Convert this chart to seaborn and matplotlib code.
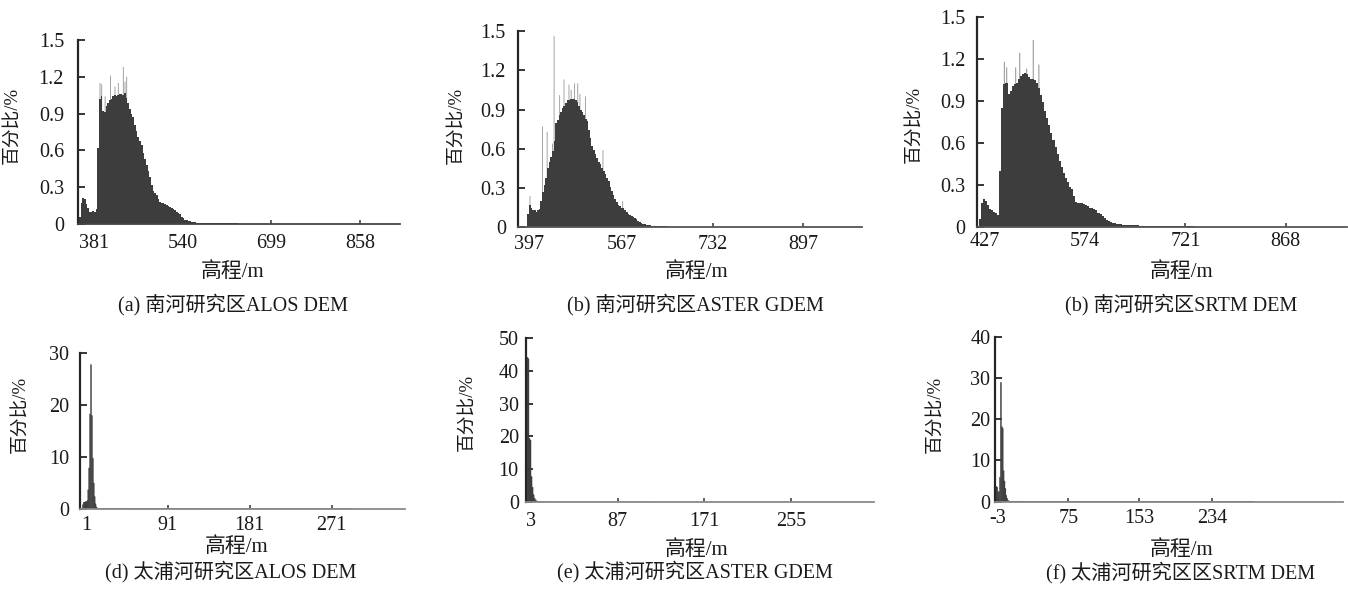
import numpy as np
import pandas as pd
import matplotlib
matplotlib.use("Agg")
import matplotlib.pyplot as plt
import seaborn as sns

# ---------------- data ----------------
# (a) 南河 ALOS DEM : 3 m bins from a_start, then 10 m tail bins
a_start = 354
a_pct = [0.06, 0.17, 0.21, 0.20, 0.16, 0.13, 0.10, 0.10, 0.11, 0.10,
         0.12, 0.62, 1.02, 1.04, 0.92, 0.91, 0.96, 0.99, 1.01, 1.02,
         1.04, 1.05, 1.04, 1.05, 1.06, 1.06, 1.05, 1.07, 1.03, 0.99,
         0.94, 0.90, 0.87, 0.81, 0.76, 0.71, 0.68, 0.64, 0.58, 0.53,
         0.48, 0.43, 0.38, 0.32, 0.27, 0.25, 0.24, 0.20, 0.18, 0.17,
         0.17, 0.16, 0.155, 0.15, 0.14, 0.13, 0.12, 0.115, 0.10, 0.09,
         0.08, 0.06, 0.046, 0.035, 0.030, 0.027, 0.022, 0.018, 0.015, 0.014,
         0.012, 0.011, 0.010, 0.009, 0.008]
a_tail = [0.007, 0.006, 0.006, 0.005, 0.005, 0.005, 0.004, 0.004, 0.004,
          0.004, 0.003, 0.003, 0.003, 0.003, 0.003, 0.002, 0.002, 0.002]
a_spike_x = [391.8, 394.8, 401.0, 410.6, 418.6, 424.6, 433.6, 436.6, 439.6]
a_spike_y = [1.15, 1.14, 1.04, 1.21, 1.12, 1.15, 1.28, 1.16, 1.20]
a_xticks = [381, 540, 699, 858]

# (b) 南河 ASTER GDEM
b_start = 394
b_pct = [0.10, 0.17, 0.15, 0.13, 0.13, 0.12, 0.13, 0.14, 0.20, 0.27,
         0.32, 0.38, 0.45, 0.50, 0.54, 0.58, 0.66, 0.80, 0.82, 0.86,
         0.88, 0.91, 0.93, 0.95, 0.97, 0.97, 0.98, 0.98, 0.98, 0.97,
         0.96, 0.93, 0.90, 0.88, 0.86, 0.83, 0.81, 0.74, 0.68, 0.62,
         0.59, 0.56, 0.53, 0.50, 0.48, 0.45, 0.43, 0.41, 0.38, 0.35,
         0.31, 0.28, 0.25, 0.22, 0.19, 0.17, 0.16, 0.15, 0.145, 0.13,
         0.12, 0.105, 0.094, 0.085, 0.075, 0.068, 0.060, 0.050, 0.043, 0.035,
         0.029, 0.024, 0.020, 0.017, 0.014, 0.012, 0.011, 0.010, 0.009]
b_tail = [0.008, 0.007, 0.006, 0.006, 0.005, 0.005, 0.005, 0.004, 0.004,
          0.004, 0.004, 0.003, 0.003, 0.003, 0.003, 0.003, 0.003, 0.002,
          0.002, 0.002, 0.002, 0.002, 0.002, 0.002, 0.002, 0.001, 0.001,
          0.001, 0.001, 0.001, 0.001, 0.001, 0.001, 0.001, 0.001, 0.001, 0.001]
b_spike_x = [399.0, 421.8, 430.2, 440.0, 442.9, 453.0, 461.0, 470.0, 474.0,
             480.0, 486.0, 490.0, 500.0, 532.0, 568.0]
b_spike_y = [0.24, 0.77, 0.73, 0.64, 1.46, 1.01, 1.13, 1.09, 1.05,
             1.10, 1.10, 1.02, 1.00, 0.59, 0.20]
b_xticks = [397, 567, 732, 897]

# (c) 南河 SRTM DEM
c_start = 418
c_pct = [0.06, 0.17, 0.20, 0.19, 0.16, 0.13, 0.12, 0.11, 0.10, 0.09,
         0.40, 0.85, 1.02, 1.03, 0.95, 0.97, 1.01, 1.02, 1.03, 1.06,
         1.08, 1.09, 1.10, 1.09, 1.07, 1.06, 1.06, 1.05, 1.03, 0.99,
         0.94, 0.89, 0.83, 0.78, 0.73, 0.67, 0.62, 0.57, 0.52, 0.47,
         0.43, 0.39, 0.35, 0.32, 0.29, 0.27, 0.22, 0.18, 0.175, 0.17,
         0.17, 0.165, 0.16, 0.15, 0.14, 0.135, 0.128, 0.12, 0.105, 0.095,
         0.080, 0.065, 0.052, 0.042, 0.036, 0.032, 0.028, 0.025, 0.022, 0.020,
         0.018, 0.017, 0.016, 0.015, 0.014]
c_tail = [0.013, 0.012, 0.011, 0.010, 0.009, 0.008, 0.007, 0.006, 0.006,
          0.005, 0.005, 0.004, 0.004, 0.004, 0.003, 0.003, 0.003, 0.002]
c_spike_x = [455.4, 458.8, 472.0, 477.9, 488.0, 497.8, 506.0]
c_spike_y = [1.18, 1.14, 1.14, 1.245, 1.13, 1.336, 1.16]
c_xticks = [427, 574, 721, 868]

# (d) 太浦河 ALOS DEM : 1 m bins, then 10 m tail bins
d_start = -3
d_pct = [0.8, 1.3, 1.3, 1.4, 1.4, 1.6, 3.7, 7.9, 18.3, 27.8, 18.0,
         9.8, 5.0, 2.4, 1.0, 0.4, 0.15]
d_tail = [0.12, 0.10, 0.10, 0.09, 0.08, 0.08, 0.07, 0.07, 0.06, 0.06,
          0.06, 0.05, 0.05, 0.05, 0.05, 0.05, 0.04, 0.04, 0.04, 0.04,
          0.04, 0.04, 0.04, 0.04, 0.04, 0.04, 0.04, 0.04]
d_xticks = [1, 91, 181, 271]

# (e) 太浦河 ASTER GDEM
e_start = -1
e_pct = [44.0, 43.6, 19.4, 18.9, 7.8, 4.6, 2.3, 1.2, 0.7, 0.4, 0.25, 0.15]
e_tail = [0.12, 0.10, 0.10, 0.09, 0.08, 0.08, 0.07, 0.07, 0.06, 0.06,
          0.06, 0.05, 0.05, 0.05, 0.05, 0.05, 0.04, 0.04, 0.04, 0.04,
          0.04, 0.04, 0.04, 0.04]
e_xticks = [3, 87, 171, 255]

# (f) 太浦河 SRTM DEM
f_start = -6
f_pct = [3.6, 3.7, 3.5, 2.4, 2.4, 5.9, 28.9, 18.2, 17.8, 7.5, 5.0,
         3.2, 1.5, 0.8, 0.3, 0.15]
f_tail = [0.12, 0.10, 0.10, 0.09, 0.08, 0.08, 0.07, 0.07, 0.06, 0.06,
          0.06, 0.05, 0.05, 0.05, 0.05, 0.05, 0.04, 0.04, 0.04, 0.04,
          0.04, 0.04, 0.04, 0.04, 0.04, 0.04, 0.04]
f_xticks = [-3, 75, 153, 234]

top_yticks = [0, 0.3, 0.6, 0.9, 1.2, 1.5]
top_ylabels = ["0", "0.3", "0.6", "0.9", "1.2", "1.5"]

captions = ["(a) 南河研究区ALOS DEM", "(b) 南河研究区ASTER GDEM",
            "(b) 南河研究区SRTM DEM", "(d) 太浦河研究区ALOS DEM",
            "(e) 太浦河研究区ASTER GDEM", "(f) 太浦河研究区区SRTM DEM"]
xlabel_text = "高程/m"
ylabel_text = "百分比/%"

# ---------------- style ----------------
sns.set_theme(style="ticks")
plt.rcParams['font.family'] = ['Liberation Serif', 'Noto Sans CJK SC', 'DejaVu Sans']
plt.rcParams['axes.unicode_minus'] = False

W, H = 1348, 589
fig = plt.figure(figsize=(W / 100, H / 100), dpi=100)
fig.patch.set_facecolor("white")

BODY = "#3d3d3d"
SPIKE = "#9a9a9a"

panels = [
    dict(start=a_start, step=3, pct=a_pct, tail=a_tail, sx=a_spike_x, sy=a_spike_y,
         xt=a_xticks, xtl=[str(v) for v in a_xticks], yt=top_yticks, ytl=top_ylabels,
         ylim=1.5, xlim=(351.8, 929.7), box=(77.7, 400, 40, 224),
         ypad=9.8, xpad=7.5, xcol="#444444", snap=True,
         xl=(233, 271.7), cap=(233, 305), yl=(12.5, 125)),
    dict(start=b_start, step=3, pct=b_pct, tail=b_tail, sx=b_spike_x, sy=b_spike_y,
         xt=b_xticks, xtl=[str(v) for v in b_xticks], yt=top_yticks, ytl=top_ylabels,
         ylim=1.5, xlim=(376.5, 1004), box=(517.7, 861.7, 31, 227.3),
         ypad=8.6, xpad=5.2, xcol="#555555", snap=True,
         xl=(696.7, 271.7), cap=(695, 305), yl=(457, 125)),
    dict(start=c_start, step=3, pct=c_pct, tail=c_tail, sx=c_spike_x, sy=c_spike_y,
         xt=c_xticks, xtl=[str(v) for v in c_xticks], yt=top_yticks, ytl=top_ylabels,
         ylim=1.5, xlim=(415.7, 958), box=(977.3, 1347, 16.9, 227.3),
         ypad=8.4, xpad=3.5, xcol="#555555", snap=True,
         xl=(1181.7, 271.7), cap=(1181, 305), yl=(914.5, 124)),
    dict(start=d_start, step=1, pct=d_pct, tail=d_tail, sx=[], sy=[],
         xt=d_xticks, xtl=[str(v) for v in d_xticks], yt=[0, 10, 20, 30],
         ytl=["0", "10", "20", "30"],
         ylim=30, xlim=(-5.6, 351.6), box=(80, 405, 353.3, 509),
         ypad=7.9, xpad=5.0, xcol="#8a8a8a", snap=False,
         xl=(236.7, 546.7), cap=(231, 571.7), yl=(20.7, 414)),
    dict(start=e_start, step=1, pct=e_pct, tail=e_tail, sx=[], sy=[],
         xt=e_xticks, xtl=[str(v) for v in e_xticks], yt=[0, 10, 20, 30, 40, 50],
         ytl=["0", "10", "20", "30", "40", "50"],
         ylim=50, xlim=(-1.85, 335.8), box=(526, 874, 337.7, 502.3),
         ypad=5.2, xpad=7.0, xcol="#8a8a8a", snap=False,
         xl=(696.7, 550), cap=(695, 571.7), yl=(467.5, 412)),
    dict(start=f_start, step=1, pct=f_pct, tail=f_tail, sx=[], sy=[],
         xt=f_xticks, xtl=["-3", "75", "153", "234"], yt=[0, 10, 20, 30, 40],
         ytl=["0", "10", "20", "30", "40"],
         ylim=40, xlim=(-6, 378), box=(995, 1342.7, 336.7, 501.7),
         ypad=3.4, xpad=5.0, xcol="#8a8a8a", snap=False,
         xl=(1181.7, 550), cap=(1181, 573), yl=(935.5, 414)),
]

TAIL_STEP = 10

for p, cap in zip(panels, captions):
    l, r, t, b = p["box"]
    ax = fig.add_axes([l / W, 1 - b / H, (r - l) / W, (b - t) / H])
    ax.set_facecolor("white")

    n_main = len(p["pct"])
    n_tail = len(p["tail"])
    main_edges = p["start"] + p["step"] * np.arange(n_main + 1)
    tail_edges = main_edges[-1] + TAIL_STEP * np.arange(1, n_tail + 1)
    edges = np.concatenate([main_edges, tail_edges]).astype(float)
    centers = (edges[:-1] + edges[1:]) / 2
    df = pd.DataFrame({"elev": centers, "pct": p["pct"] + p["tail"]})

    if len(p["sx"]):
        hw = 0.8
        sxs = np.array(p["sx"], dtype=float)
        sedges = np.sort(np.concatenate([sxs - hw, sxs + hw]))
        sdf = pd.DataFrame({"elev": sxs, "pct": p["sy"]})
        sns.histplot(data=sdf, x="elev", weights="pct", bins=list(sedges),
                     color=SPIKE, linewidth=0, alpha=1, snap=False, ax=ax)

    if p["snap"]:
        sns.histplot(data=df, x="elev", weights="pct", bins=list(edges), color=BODY,
                     linewidth=0, alpha=1, ax=ax)
    else:
        sns.histplot(data=df, x="elev", weights="pct", bins=list(edges), color=BODY,
                     edgecolor=BODY, linewidth=0.35, alpha=1, snap=False, ax=ax)

    ax.set_xlim(*p["xlim"])
    ax.set_ylim(0, p["ylim"])
    ax.set_xticks(p["xt"])
    ax.set_xticklabels(p["xtl"])
    ax.set_yticks(p["yt"])
    ax.set_yticklabels(p["ytl"])
    ax.set_xlabel("")
    ax.set_ylabel("")
    ax.grid(False)
    for s in ["top", "right"]:
        ax.spines[s].set_visible(False)
    ax.spines["left"].set_color("#262626")
    ax.spines["left"].set_linewidth(1.6)
    ax.spines["bottom"].set_color(p["xcol"])
    ax.spines["bottom"].set_linewidth(1.3)
    ax.tick_params(axis="y", direction="in", length=5, width=1.3, color="#262626",
                   pad=p["ypad"], labelsize=14.5, labelcolor="#1a1a1a")
    ax.tick_params(axis="x", direction="in", length=3, width=1.1, color="#333333",
                   pad=p["xpad"], labelsize=14.5, labelcolor="#1a1a1a")

    fig.text(p["xl"][0] / W, 1 - p["xl"][1] / H, xlabel_text, ha="center",
             va="center", fontsize=15, color="#1a1a1a")
    fig.text(p["cap"][0] / W, 1 - p["cap"][1] / H, cap, ha="center",
             va="center", fontsize=14.5, color="#1a1a1a")
    fig.text(p["yl"][0] / W, 1 - p["yl"][1] / H, ylabel_text, ha="center",
             va="center", rotation=90, fontsize=13.5, color="#1a1a1a")

fig.savefig("out.png", dpi=100, facecolor="white")
